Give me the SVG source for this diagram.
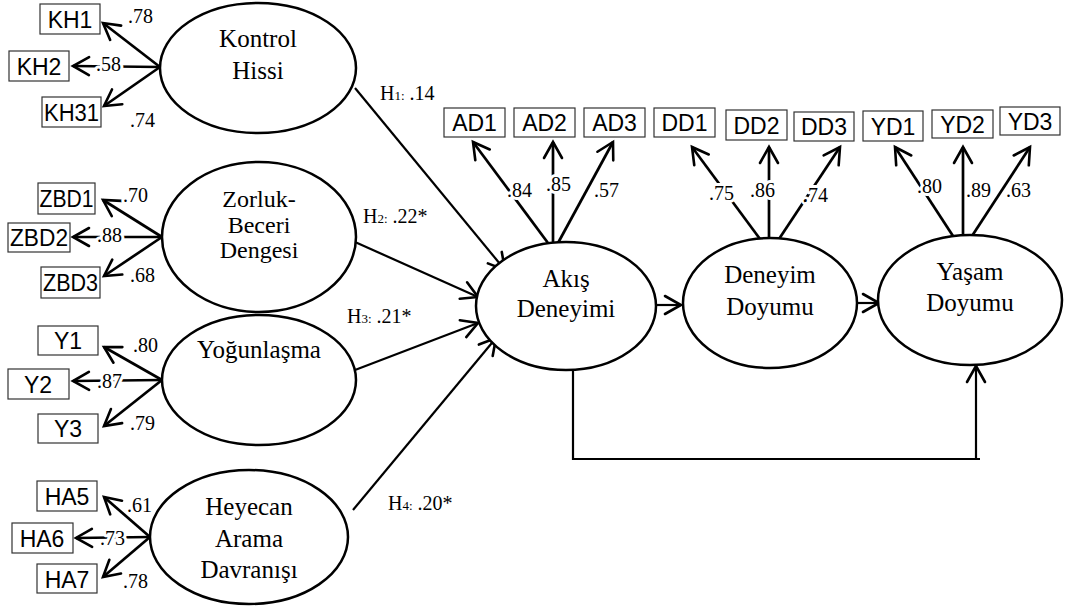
<svg xmlns="http://www.w3.org/2000/svg" width="1071" height="612" viewBox="0 0 1071 612">
<defs>
<marker id="ah" markerUnits="userSpaceOnUse" viewBox="-20 -12 24 24" refX="0" refY="0" markerWidth="24" markerHeight="24" orient="auto">
<path d="M-16,-9 L0,0 L-16,9" fill="none" stroke="#000" stroke-width="2.6" stroke-linecap="round" stroke-linejoin="miter"/>
</marker>
</defs>
<style>
.lat{fill:#fff;stroke:#000;stroke-width:2.5}
.box{fill:#fff;stroke:#333;stroke-width:1.2}
.bt{font-family:"Liberation Sans",Arial,sans-serif;font-size:23px;text-anchor:middle;fill:#000}
.lt{font-family:"Liberation Serif","Times New Roman",serif;font-size:25px;text-anchor:middle;fill:#000}
.lt2{font-size:24px}
.num{font-family:"Liberation Serif","Times New Roman",serif;font-size:20px;fill:#000}
.halo{stroke:#fff;stroke-width:6;paint-order:stroke;stroke-linejoin:round}
.ind{stroke:#000;stroke-width:2.7;fill:none;marker-end:url(#ah)}
.path{stroke:#000;stroke-width:2.2;fill:none;marker-end:url(#ah)}
.plain{stroke:#000;stroke-width:2.2;fill:none}
.sub{font-size:13px}
</style>
<rect width="1071" height="612" fill="#fff"/>

<g id="connectors">
<line class="ind" x1="160" y1="67" x2="103" y2="23"/>
<line class="ind" x1="160" y1="67" x2="73" y2="66"/>
<line class="ind" x1="160" y1="67" x2="104" y2="106"/>
<line class="ind" x1="162" y1="237" x2="103" y2="200"/>
<line class="ind" x1="162" y1="237" x2="73" y2="237"/>
<line class="ind" x1="162" y1="237" x2="104" y2="276"/>
<line class="ind" x1="162" y1="380" x2="104" y2="347"/>
<line class="ind" x1="162" y1="380" x2="73" y2="381"/>
<line class="ind" x1="162" y1="380" x2="104" y2="426"/>
<line class="ind" x1="150" y1="537" x2="104" y2="497"/>
<line class="ind" x1="150" y1="537" x2="76" y2="538"/>
<line class="ind" x1="150" y1="537" x2="103" y2="577"/>
<line class="ind" x1="548" y1="243" x2="473" y2="142"/>
<line class="ind" x1="553" y1="243" x2="553" y2="142"/>
<line class="ind" x1="558" y1="243" x2="613" y2="142"/>
<line class="ind" x1="760" y1="239" x2="692" y2="147"/>
<line class="ind" x1="769" y1="238" x2="769" y2="147"/>
<line class="ind" x1="779" y1="239" x2="840" y2="147"/>
<line class="ind" x1="953" y1="236" x2="895" y2="147"/>
<line class="ind" x1="963" y1="235" x2="963" y2="147"/>
<line class="ind" x1="972" y1="236" x2="1030" y2="147"/>
<line class="path" x1="355" y1="88" x2="505" y2="270"/>
<line class="path" x1="355" y1="242" x2="478" y2="297"/>
<line class="path" x1="355" y1="370" x2="478" y2="323"/>
<line class="path" x1="353" y1="510" x2="496" y2="338"/>
<line class="path" x1="656" y1="305" x2="681" y2="305"/>
<line class="path" x1="857" y1="303" x2="879" y2="303"/>
<polyline class="plain" points="573,370 573,459 980,459"/>
<line class="path" x1="976" y1="459" x2="976" y2="366"/>
</g>

<g id="loadings">
<text class="num" x="128" y="23">.78</text>
<text class="num halo" x="96" y="71">.58</text>
<text class="num" x="130" y="127">.74</text>
<text class="num halo" x="123" y="202">.70</text>
<text class="num halo" x="97" y="242">.88</text>
<text class="num" x="130" y="282">.68</text>
<text class="num" x="133" y="352">.80</text>
<text class="num halo" x="97" y="388">.87</text>
<text class="num" x="130" y="430">.79</text>
<text class="num" x="127" y="512">.61</text>
<text class="num halo" x="100" y="545">.73</text>
<text class="num" x="123" y="588">.78</text>
<text class="num halo" x="507" y="197">.84</text>
<text class="num halo" x="546" y="191">.85</text>
<text class="num" x="594" y="197">.57</text>
<text class="num halo" x="709" y="200">.75</text>
<text class="num halo" x="750" y="197">.86</text>
<text class="num halo" x="803" y="202">.74</text>
<text class="num halo" x="917" y="193">.80</text>
<text class="num" x="966" y="197">.89</text>
<text class="num halo" x="1006" y="197">.63</text>
<text class="num" x="380" y="100">H<tspan class="sub">1:</tspan> .14</text>
<text class="num" x="363" y="223">H<tspan class="sub">2:</tspan> .22*</text>
<text class="num" x="347" y="323">H<tspan class="sub">3:</tspan> .21*</text>
<text class="num" x="388" y="510">H<tspan class="sub">4:</tspan> .20*</text>
</g>

<g id="KontrolHissi"><ellipse class="lat" cx="258" cy="68" rx="98" ry="65"/><text class="lt" x="258" y="47">Kontrol</text><text class="lt" x="258" y="79">Hissi</text></g>
<g id="ZorlukBeceri"><ellipse class="lat" cx="259" cy="237" rx="97" ry="75"/><text class="lt lt2" x="259" y="207">Zorluk-</text><text class="lt lt2" x="259" y="233">Beceri</text><text class="lt lt2" x="259" y="258">Dengesi</text></g>
<g id="Yogunlasma"><ellipse class="lat" cx="259" cy="380" rx="97" ry="65"/><text class="lt" x="259" y="358">Yoğunlaşma</text></g>
<g id="Heyecan"><ellipse class="lat" cx="249" cy="537" rx="99" ry="67"/><text class="lt" x="249" y="515">Heyecan</text><text class="lt" x="249" y="547">Arama</text><text class="lt" x="249" y="578">Davranışı</text></g>
<g id="AkisDeneyimi"><ellipse class="lat" cx="566" cy="306" rx="90" ry="64"/><text class="lt" x="566" y="287">Akış</text><text class="lt" x="566" y="317">Deneyimi</text></g>
<g id="DeneyimDoyumu"><ellipse class="lat" cx="770" cy="303" rx="87" ry="65"/><text class="lt" x="770" y="283">Deneyim</text><text class="lt" x="770" y="315">Doyumu</text></g>
<g id="YasamDoyumu"><ellipse class="lat" cx="970" cy="300" rx="92" ry="65"/><text class="lt" x="970" y="280">Yaşam</text><text class="lt" x="970" y="311">Doyumu</text></g>

<g id="KH1"><rect class="box" x="40" y="4" width="60" height="30"/><text class="bt" x="70" y="28">KH1</text></g>
<g id="KH2"><rect class="box" x="9" y="51" width="60" height="30"/><text class="bt" x="39" y="75">KH2</text></g>
<g id="KH31"><rect class="box" x="42" y="97" width="59" height="30"/><text class="bt" x="71.5" y="121" textLength="55" lengthAdjust="spacingAndGlyphs">KH31</text></g>
<g id="ZBD1"><rect class="box" x="38" y="183" width="57" height="31"/><text class="bt" x="66.5" y="207" textLength="54" lengthAdjust="spacingAndGlyphs">ZBD1</text></g>
<g id="ZBD2"><rect class="box" x="8" y="223" width="62" height="29"/><text class="bt" x="39" y="246" textLength="58" lengthAdjust="spacingAndGlyphs">ZBD2</text></g>
<g id="ZBD3"><rect class="box" x="41" y="267" width="59" height="31"/><text class="bt" x="70.5" y="291" textLength="55" lengthAdjust="spacingAndGlyphs">ZBD3</text></g>
<g id="Y1"><rect class="box" x="38" y="326" width="60" height="29"/><text class="bt" x="68" y="349">Y1</text></g>
<g id="Y2"><rect class="box" x="8" y="369" width="61" height="30"/><text class="bt" x="38" y="393">Y2</text></g>
<g id="Y3"><rect class="box" x="38" y="414" width="60" height="29"/><text class="bt" x="68" y="437">Y3</text></g>
<g id="HA5"><rect class="box" x="37" y="481" width="60" height="30"/><text class="bt" x="67" y="505">HA5</text></g>
<g id="HA6"><rect class="box" x="12" y="523" width="61" height="30"/><text class="bt" x="42" y="547">HA6</text></g>
<g id="HA7"><rect class="box" x="37" y="564" width="60" height="29"/><text class="bt" x="67" y="588">HA7</text></g>
<g id="AD1"><rect class="box" x="444" y="108" width="61" height="29"/><text class="bt" x="474.5" y="131">AD1</text></g>
<g id="AD2"><rect class="box" x="514" y="108" width="61" height="29"/><text class="bt" x="544.5" y="131">AD2</text></g>
<g id="AD3"><rect class="box" x="584" y="108" width="61" height="29"/><text class="bt" x="614.5" y="131">AD3</text></g>
<g id="DD1"><rect class="box" x="654" y="108" width="61" height="29"/><text class="bt" x="684.5" y="131">DD1</text></g>
<g id="DD2"><rect class="box" x="726" y="110" width="61" height="30"/><text class="bt" x="756.5" y="134">DD2</text></g>
<g id="DD3"><rect class="box" x="794" y="112" width="60" height="29"/><text class="bt" x="824" y="135">DD3</text></g>
<g id="YD1"><rect class="box" x="863" y="111" width="60" height="30"/><text class="bt" x="893" y="135">YD1</text></g>
<g id="YD2"><rect class="box" x="932" y="110" width="61" height="28"/><text class="bt" x="962.5" y="133">YD2</text></g>
<g id="YD3"><rect class="box" x="1000" y="107" width="60" height="28"/><text class="bt" x="1030" y="130">YD3</text></g>
</svg>
